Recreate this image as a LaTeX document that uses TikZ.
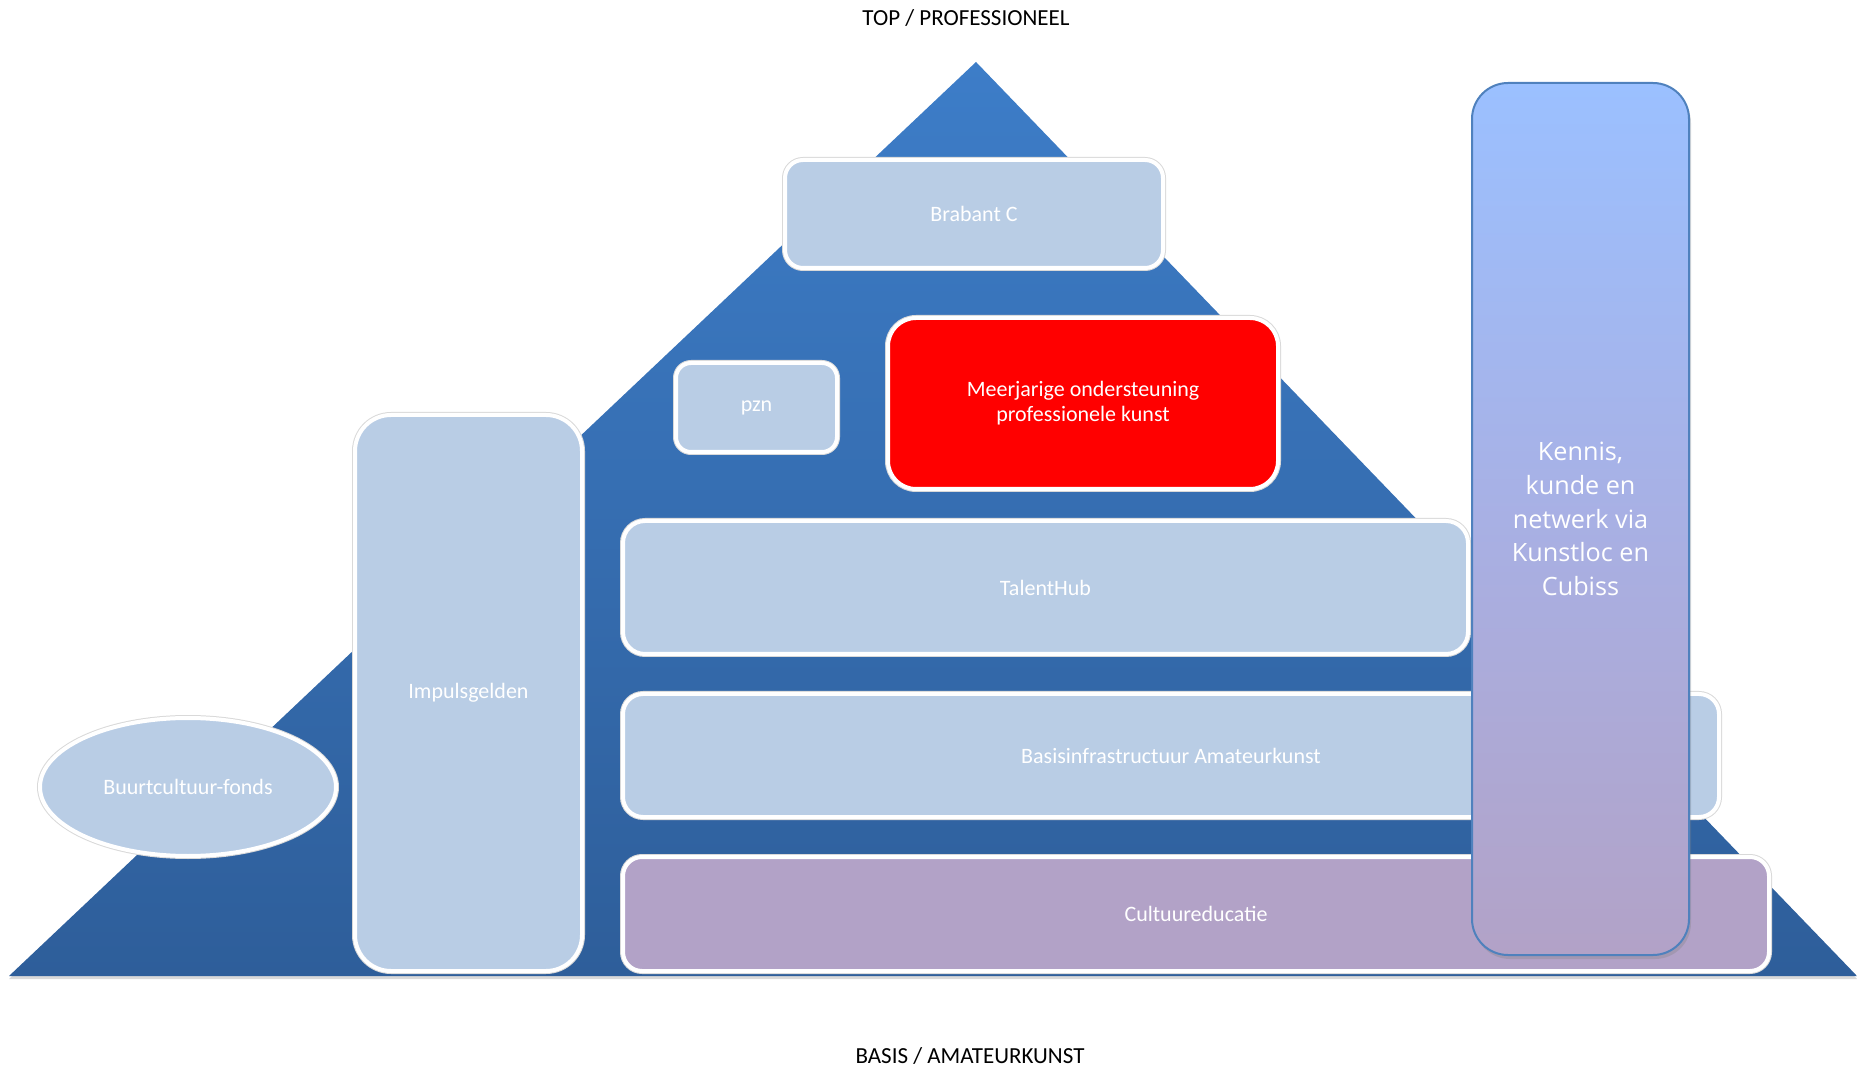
\documentclass[tikz,border=0pt]{standalone}
\usepackage{fontspec}
\setmainfont{Carlito}
\newfontfamily\kennisfont{Open Sans}
\usetikzlibrary{shadows}
\usetikzlibrary{shapes.geometric}

\definecolor{piramidetop}{RGB}{61,125,200}
\definecolor{piramidebot}{RGB}{46,94,154}
\definecolor{lichtblauw}{RGB}{185,205,229}
\definecolor{paars}{RGB}{178,162,199}
\definecolor{kennistop}{RGB}{155,192,255}
\definecolor{kennismid}{RGB}{168,176,228}
\definecolor{kennisbot}{RGB}{178,162,199}
\definecolor{kennisrand}{RGB}{79,129,189}

\tikzset{
  blok/.style={rectangle, draw=white, line width=2pt, fill=lichtblauw, text=white,
    font=\fontsize{11}{12.5}\selectfont, align=center, inner sep=0pt,
    preaction={draw=black!15, line width=3pt}},
  kop/.style={font=\fontsize{11.5}{14}\selectfont, inner sep=0pt},
}

\begin{document}
\begin{tikzpicture}[x=0.5pt, y=-0.5pt]
\useasboundingbox (0,0) rectangle (1857,1068);
% piramide
\path[top color=piramidetop, bottom color=piramidebot,
  drop shadow={opacity=0.3, shadow xshift=0pt, shadow yshift=-1.5pt}]
  (976,62) -- (1857,976) -- (9,976) -- cycle;
\node[kop] (toplabel) at (966,18) {TOP / PROFESSIONEEL};
\node[kop] (basislabel) at (970,1056) {BASIS / AMATEURKUNST};
% blokken
\node[blok, minimum width=189pt, minimum height=54pt, rounded corners=9pt] (brabant) at (974,214) {Brabant C};
\node[blok, minimum width=80.5pt, minimum height=44.5pt, rounded corners=7.5pt] (pzn) at (756.5,407.5) {pzn};
\node[blok, fill=red, minimum width=195pt, minimum height=85.5pt, rounded corners=14pt] (meerjarig) at (1083,403.5) {Meerjarige ondersteuning\\professionele kunst};
\node[blok, minimum width=113.5pt, minimum height=278pt, rounded corners=18pt] (impuls) at (468.5,693) {Impulsgelden};
\node[blok, ellipse, minimum width=148pt, minimum height=69pt] (buurt) at (188,787) {Buurtcultuur-fonds};
\node[blok, minimum width=422.5pt, minimum height=66.5pt, rounded corners=11pt] (talent) at (1045.5,587.5) {TalentHub};
\node[blok, minimum width=548pt, minimum height=61.5pt, rounded corners=10pt] (bia) at (1171,755.5) {Basisinfrastructuur Amateurkunst};
\node[blok, fill=paars, minimum width=573pt, minimum height=57pt, rounded corners=9.5pt] (cultuur) at (1196,914) {Cultuureducatie};
% kennis kolom
\node[rectangle, draw=kennisrand, line width=1pt, rounded corners=18pt,
  top color=kennistop, bottom color=kennisbot, middle color=kennismid,
  drop shadow={opacity=0.3, shadow xshift=1pt, shadow yshift=-2pt},
  minimum width=108.5pt, minimum height=436pt, inner sep=0pt, align=center,
  text=white, font=\kennisfont\fontsize{12.6}{16.8}\selectfont] (kennis) at (1580.5,519)
  {Kennis,\\kunde en\\netwerk via\\Kunstloc en\\Cubiss};
\end{tikzpicture}
\end{document}
